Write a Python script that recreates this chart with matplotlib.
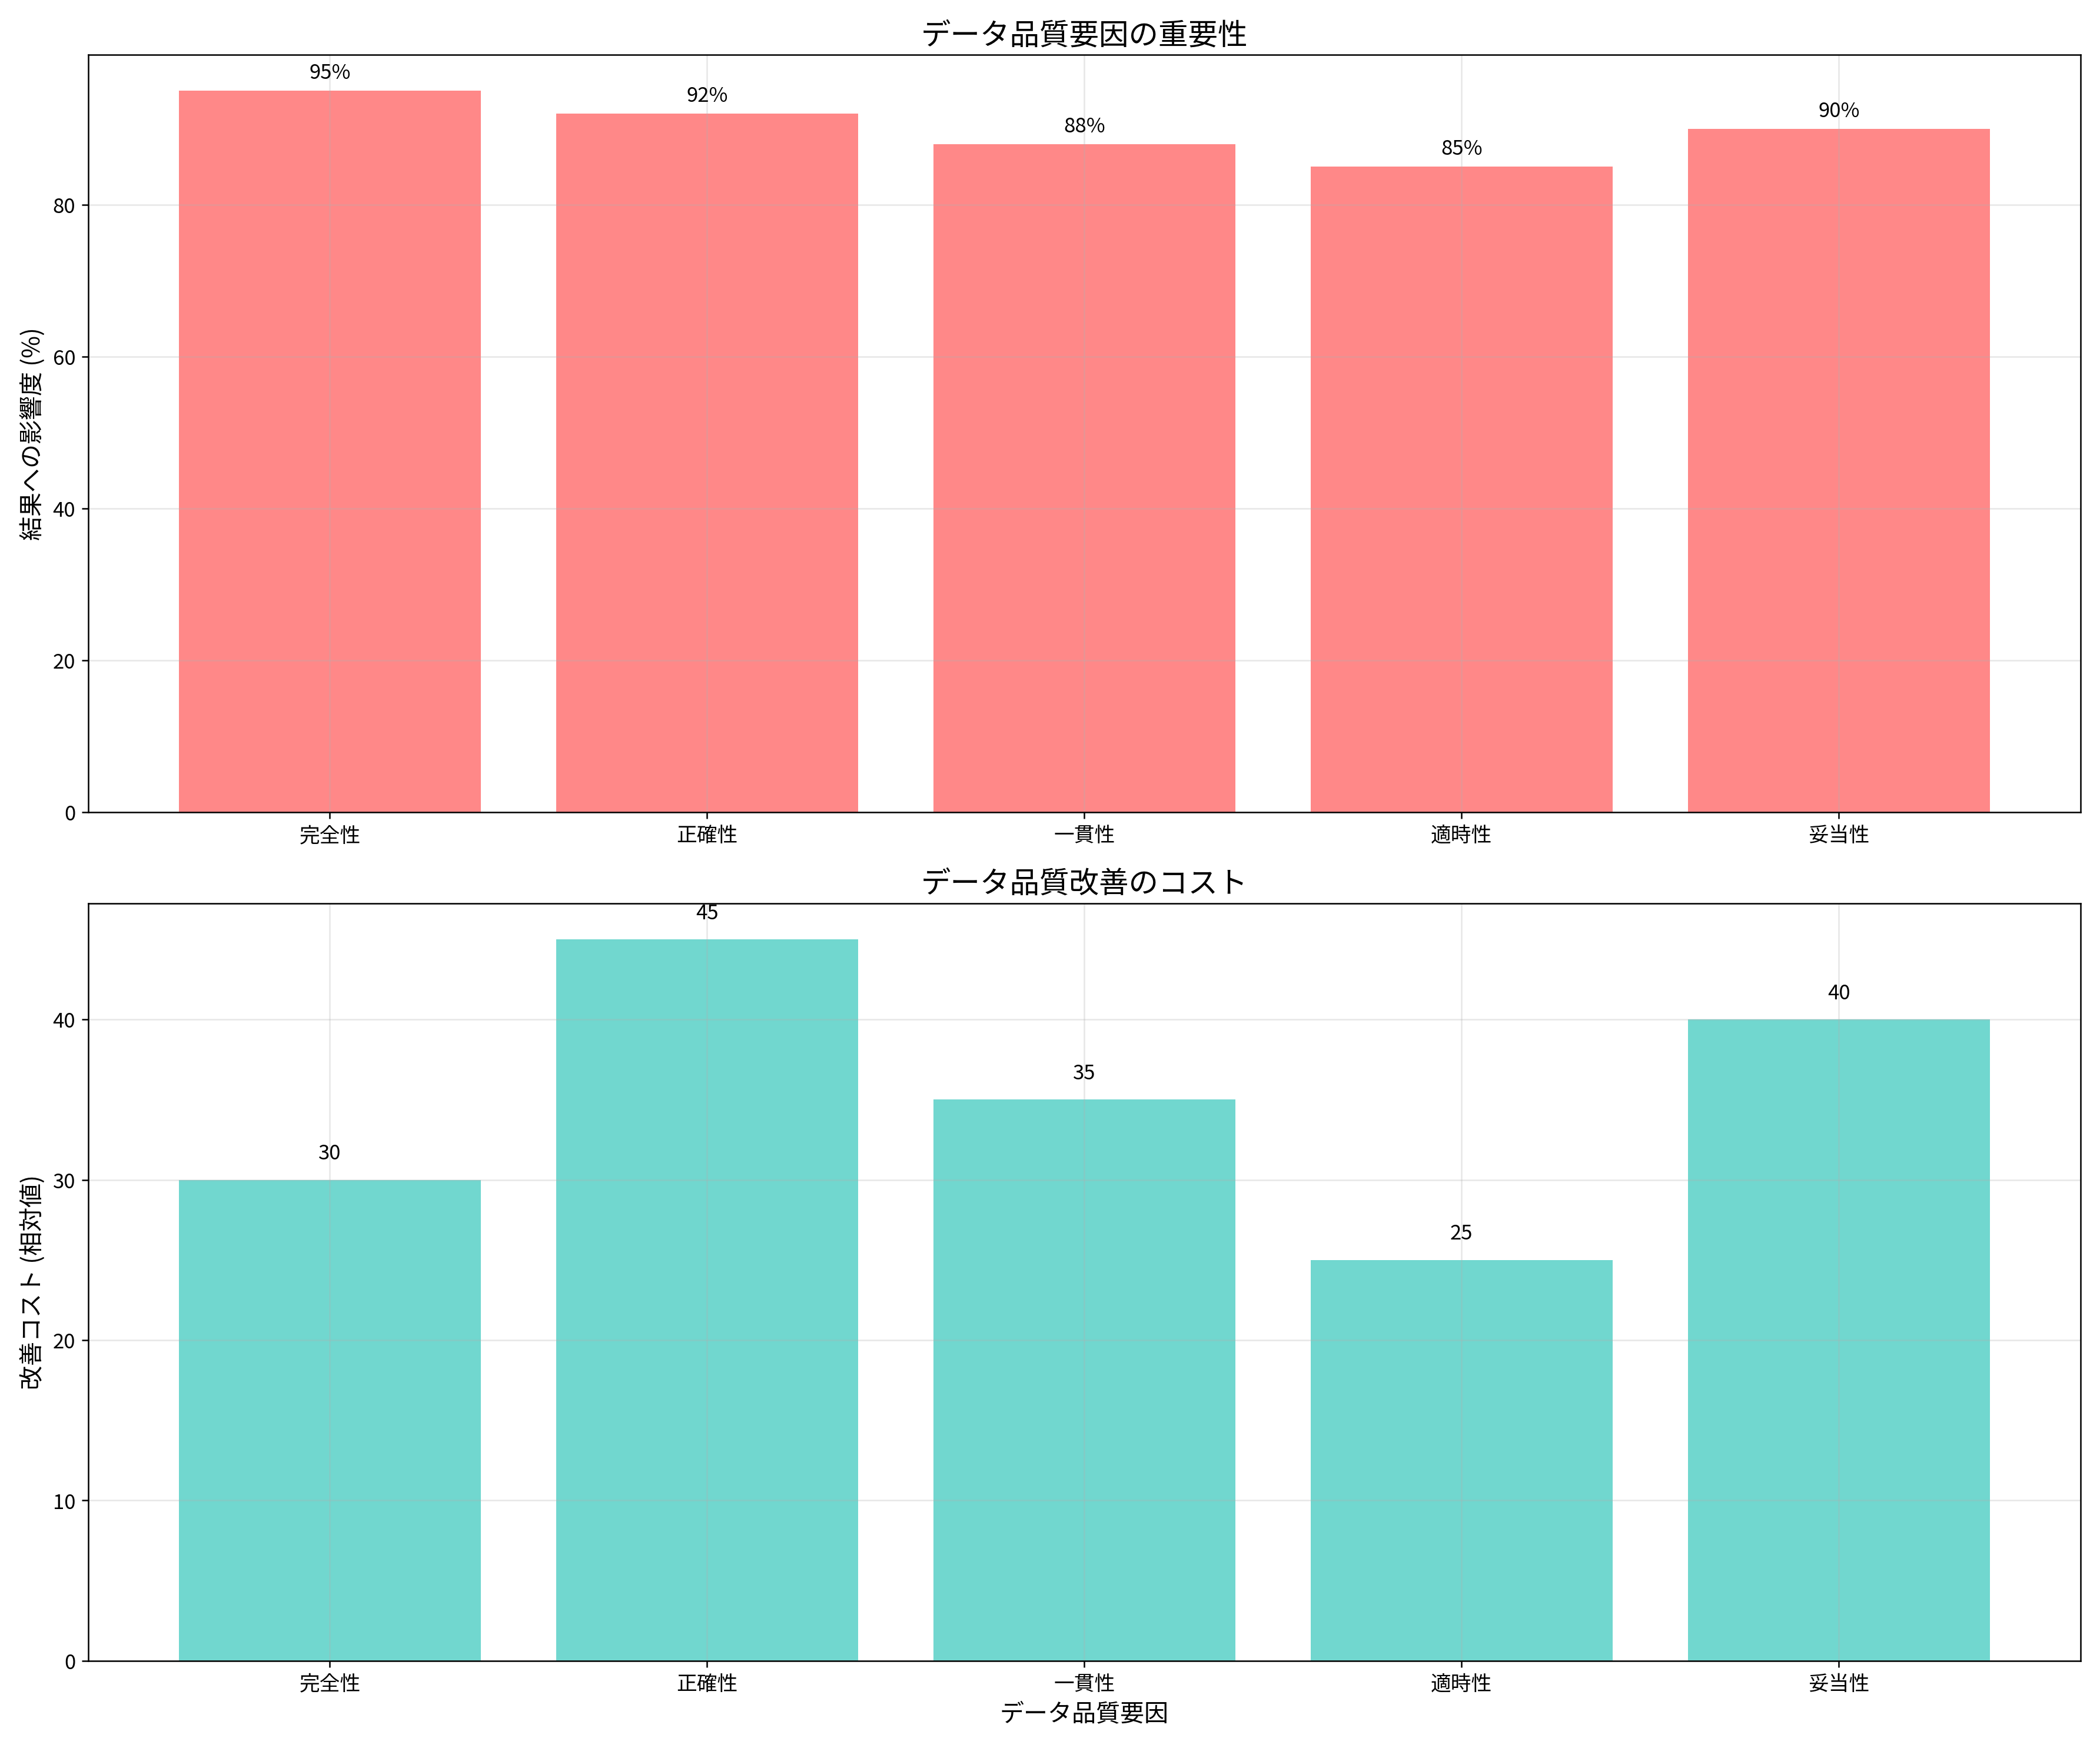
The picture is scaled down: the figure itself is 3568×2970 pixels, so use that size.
import matplotlib
matplotlib.use("Agg")
import matplotlib.pyplot as plt

plt.rcParams['font.family'] = ['Noto Sans CJK JP', 'DejaVu Sans']

factors = ["完全性", "正確性", "一貫性", "適時性", "妥当性"]
importance = [95, 92, 88, 85, 90]
cost = [30, 45, 35, 25, 40]

fig, (ax1, ax2) = plt.subplots(2, 1, figsize=(15.7, 13.07))

bars = ax1.bar(factors, importance, color="#FF6B6B", alpha=0.8)
ax1.set_title("データ品質要因の重要性", fontsize=16)
ax1.set_ylabel("結果への影響度 (%)", fontsize=13)
ax1.grid(True, alpha=0.3)
for b, v in zip(bars, importance):
    ax1.text(b.get_x() + b.get_width() / 2, v + 1, f"{v}%", ha="center", va="bottom", fontsize=11)

bars = ax2.bar(factors, cost, color="#4ECDC4", alpha=0.8)
ax2.set_title("データ品質改善のコスト", fontsize=16)
ax2.set_ylabel("改善コスト (相対値)", fontsize=13)
ax2.set_xlabel("データ品質要因", fontsize=13)
ax2.grid(True, alpha=0.3)
for b, v in zip(bars, cost):
    ax2.text(b.get_x() + b.get_width() / 2, v + 1, f"{v}", ha="center", va="bottom", fontsize=11)

for ax in (ax1, ax2):
    ax.tick_params(labelsize=11)

plt.tight_layout()
plt.savefig("out.png", dpi=227.3)
